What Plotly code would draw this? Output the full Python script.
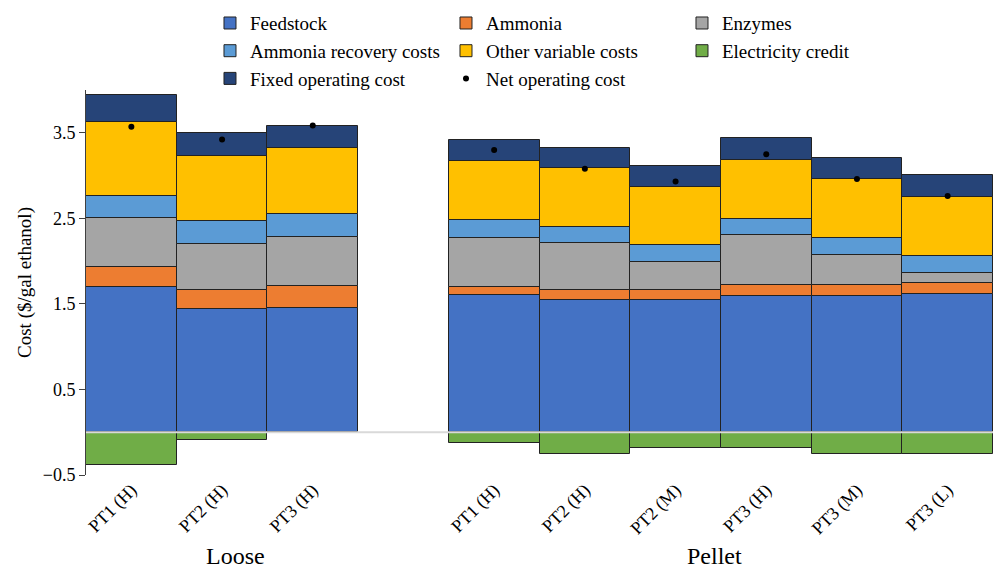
import plotly.graph_objects as go

# Cost categories for each pretreatment case ($/gal ethanol)
labels = ["PT1 (H)", "PT2 (H)", "PT3 (H)",
          "PT1 (H)", "PT2 (H)", "PT2 (M)", "PT3 (H)", "PT3 (M)", "PT3 (L)"]
groups = ["Loose", "Pellet"]
group_sizes = [3, 6]

feedstock = [1.70, 1.44, 1.45, 1.60, 1.55, 1.55, 1.59, 1.59, 1.615]
ammonia = [0.23, 0.22, 0.26, 0.10, 0.11, 0.11, 0.13, 0.13, 0.13]
enzymes = [0.57, 0.535, 0.575, 0.575, 0.55, 0.335, 0.58, 0.35, 0.115]
ammonia_recovery = [0.26, 0.275, 0.265, 0.20, 0.19, 0.19, 0.195, 0.195, 0.195]
other_variable = [0.87, 0.76, 0.77, 0.695, 0.685, 0.685, 0.69, 0.69, 0.695]
electricity_credit = [-0.38, -0.09, 0.0, -0.125, -0.25, -0.19, -0.185, -0.25, -0.26]
fixed_operating = [0.315, 0.265, 0.26, 0.245, 0.24, 0.245, 0.25, 0.25, 0.26]
net_operating = [3.57, 3.42, 3.585, 3.30, 3.08, 2.93, 3.25, 2.96, 2.76]

# x positions: groups separated by one empty slot
xpos = []
start = 0
for n in group_sizes:
    xpos += list(range(start, start + n))
    start += n + 1
group_centers = []
i = 0
for n in group_sizes:
    group_centers.append((xpos[i] + xpos[i + n - 1]) / 2)
    i += n
group_label_nudge = [0.15, -0.07]

FONT = "Liberation Serif"
OUTLINE = dict(color="#222222", width=1)

series = [
    ("Feedstock", feedstock, "#4472C4"),
    ("Ammonia", ammonia, "#ED7D31"),
    ("Enzymes", enzymes, "#A5A5A5"),
    ("Ammonia recovery costs", ammonia_recovery, "#5B9BD5"),
    ("Other variable costs", other_variable, "#FFC000"),
    ("Electricity credit", electricity_credit, "#70AD47"),
    ("Fixed operating cost", fixed_operating, "#264478"),
]

fig = go.Figure()
for name, vals, color in series:
    fig.add_trace(go.Bar(
        x=xpos, y=vals, name=name,
        marker=dict(color=color, line=OUTLINE),
    ))

fig.add_trace(go.Scatter(
    x=xpos, y=net_operating, name="Net operating cost", mode="markers",
    marker=dict(color="black", size=6),
))

fig.update_layout(
    width=993, height=568,
    margin=dict(l=86, r=0, t=90, b=93),
    barmode="relative", bargap=0,
    plot_bgcolor="white", paper_bgcolor="white",
    font=dict(family=FONT, size=18, color="black"),
    showlegend=True,
    legend=dict(
        orientation="h", x=0.1367, y=1.223, xanchor="left", yanchor="top",
        entrywidth=191, traceorder="normal", itemwidth=30,
        font=dict(family=FONT, size=19, color="black"),
        bgcolor="rgba(0,0,0,0)", tracegroupgap=0,
    ),
    xaxis=dict(
        range=[-0.5, max(xpos) + 0.5],
        tickmode="array", tickvals=xpos, ticktext=labels,
        tickangle=-45, showgrid=False, zeroline=False, showline=False,
        ticks="", tickfont=dict(family=FONT, size=18, color="black"),
        automargin=False,
    ),
    yaxis=dict(
        range=[-0.5, 4.0], tick0=-0.5, dtick=1,
        ticks="outside", ticklen=6, tickcolor="#404040",
        showline=True, linecolor="#404040", linewidth=1,
        showgrid=False, zeroline=False,
        tickfont=dict(family=FONT, size=18, color="black"),
        title=dict(text="Cost ($/gal ethanol)", font=dict(family=FONT, size=19, color="black"), standoff=6),
        automargin=False,
    ),
    shapes=[dict(
        type="line", xref="paper", x0=0, x1=1, yref="y", y0=0, y1=0,
        line=dict(color="#d9d9d9", width=2), layer="above",
    )],
    annotations=[
        dict(text=g, x=c + d, y=-0.21, xref="x", yref="paper",
             xanchor="center", yanchor="middle", showarrow=False,
             font=dict(family=FONT, size=24, color="black"))
        for g, c, d in zip(groups, group_centers, group_label_nudge)
    ],
)

fig.write_html("out.html")
